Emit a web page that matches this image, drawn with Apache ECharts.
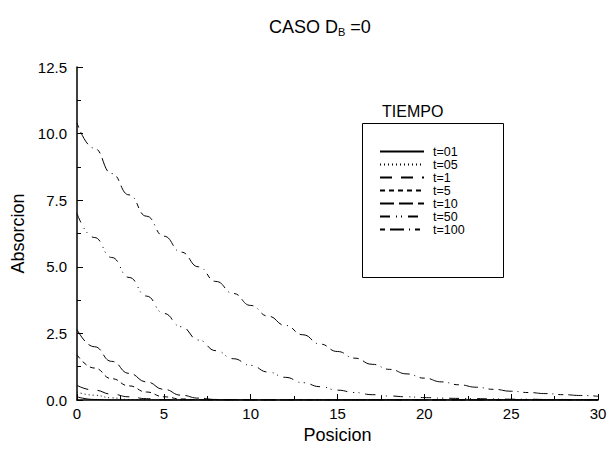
<!DOCTYPE html>
<html>
<head>
<meta charset="utf-8">
<script src="https://cdn.jsdelivr.net/npm/echarts@6/dist/echarts.min.js"></script>
<style>
  html, body { margin: 0; padding: 0; background: #fff; }
  #chart { width: 611px; height: 449px; }
</style>
</head>
<body>
<div id="chart"></div>
<script>
// posiciones (eje x)
var posicion = [0,1,2,3,4,5,6,7,8,9,10,11,12,13,14,15,16,17,18,19,20,21,22,23,24,25,26,27,28,29,30];

// absorcion por tiempo
var t01  = [0.12,0.02,0,0,0,0,0,0,0,0,0,0,0,0,0,0,0,0,0,0,0,0,0,0,0,0,0,0,0,0,0];
var t05  = [0.3,0.18,0.08,0.02,0,0,0,0,0,0,0,0,0,0,0,0,0,0,0,0,0,0,0,0,0,0,0,0,0,0,0];
var t1   = [0.55,0.37,0.22,0.12,0.05,0.01,0,0,0,0,0,0,0,0,0,0,0,0,0,0,0,0,0,0,0,0,0,0,0,0,0];
var t5   = [1.7,1.2,0.8,0.53,0.3,0.12,0.04,0.01,0,0,0,0,0,0,0,0,0,0,0,0,0,0,0,0,0,0,0,0,0,0,0];
var t10  = [2.65,2.0,1.45,1.0,0.68,0.4,0.18,0.07,0.02,0.01,0,0,0,0,0,0,0,0,0,0,0,0,0,0,0,0,0,0,0,0,0];
var t50  = [7.0,6.1,5.35,4.6,3.9,3.25,2.75,2.25,1.85,1.55,1.3,1.05,0.85,0.65,0.5,0.37,0.28,0.2,0.15,0.12,0.09,0.07,0.06,0.05,0.04,0.03,0.03,0.02,0.02,0.01,0.01];
var t100 = [10.4,9.45,8.5,7.7,6.9,6.15,5.55,5.0,4.45,4.0,3.55,3.15,2.8,2.45,2.1,1.82,1.57,1.34,1.15,0.98,0.82,0.68,0.57,0.48,0.4,0.33,0.28,0.24,0.2,0.17,0.14];

var nombres = ['t=01', 't=05', 't=1', 't=5', 't=10', 't=50', 't=100'];
var valores = [t01, t05, t1, t5, t10, t50, t100];
var trazos = ['solid', [1, 3], [12, 9], [5, 4], [14, 5], [10, 6, 1, 4, 1, 6], [5, 5, 14, 5, 1, 5]];

var font = 'Liberation Sans, Arial, sans-serif';

function pares(ys) {
  return posicion.map(function (x, i) { return [x, ys[i]]; });
}

var chart = echarts.init(document.getElementById('chart'), null, { renderer: 'svg' });

var series = nombres.map(function (n, i) {
  return {
    name: n,
    type: 'line',
    data: pares(valores[i]),
    symbol: 'none',
    smooth: true,
    smoothMonotone: 'x',
    lineStyle: { color: '#000', width: 1, type: trazos[i] },
    itemStyle: { color: '#000' }
  };
});

chart.setOption({
  animation: false,
  title: [
    {
      text: 'CASO D{sub|B} =0',
      left: 264, top: 12,
      textStyle: {
        fontFamily: font, fontSize: 18, fontWeight: 'normal', color: '#000',
        rich: { sub: { fontFamily: font, fontSize: 11, verticalAlign: 'bottom', padding: [9, 0, 0, 0], color: '#000' } }
      }
    },
    {
      text: 'TIEMPO',
      left: 377, top: 98,
      textStyle: { fontFamily: font, fontSize: 16, fontWeight: 'normal', color: '#000' }
    }
  ],
  graphic: [{
    type: 'rect',
    shape: { x: 362.5, y: 123.5, width: 141, height: 154 },
    style: { fill: 'none', stroke: '#000', lineWidth: 1 }
  }],
  legend: {
    data: nombres,
    orient: 'vertical',
    left: 374, top: 140,
    itemWidth: 44, itemHeight: 10, itemGap: 0,
    itemStyle: { opacity: 0 },
    textStyle: { fontFamily: font, fontSize: 12.5, color: '#000', padding: [0, 0, 0, 4] },
    selectedMode: false
  },
  grid: { left: 77, right: 13, top: 67, bottom: 46 },
  xAxis: {
    type: 'value',
    min: 0, max: 30, interval: 5,
    name: 'Posicion', nameLocation: 'middle', nameGap: 26,
    nameTextStyle: { fontFamily: font, fontSize: 18, color: '#000' },
    axisLine: { onZero: false, lineStyle: { color: '#000', width: 1.5 } },
    axisTick: { inside: true, length: 6, lineStyle: { color: '#000' } },
    minorTick: { show: true, splitNumber: 2, length: 4, lineStyle: { color: '#000' } },
    splitLine: { show: false },
    axisLabel: { fontFamily: font, fontSize: 15, color: '#000', margin: 6 }
  },
  yAxis: {
    type: 'value',
    min: 0, max: 12.5, interval: 2.5,
    name: 'Absorcion', nameLocation: 'middle', nameGap: 48,
    nameTextStyle: { fontFamily: font, fontSize: 18, color: '#000' },
    axisLine: { show: true, onZero: false, lineStyle: { color: '#000', width: 1.5 } },
    axisTick: { show: true, inside: true, length: 6, lineStyle: { color: '#000' } },
    minorTick: { show: true, splitNumber: 2, length: 4, lineStyle: { color: '#000' } },
    splitLine: { show: false },
    axisLabel: {
      fontFamily: font, fontSize: 15, color: '#000', margin: 10,
      formatter: function (v) { return v.toFixed(1); }
    }
  },
  series: series
});
window.addEventListener('resize', function () { chart.resize(); });
</script>
</body>
</html>
